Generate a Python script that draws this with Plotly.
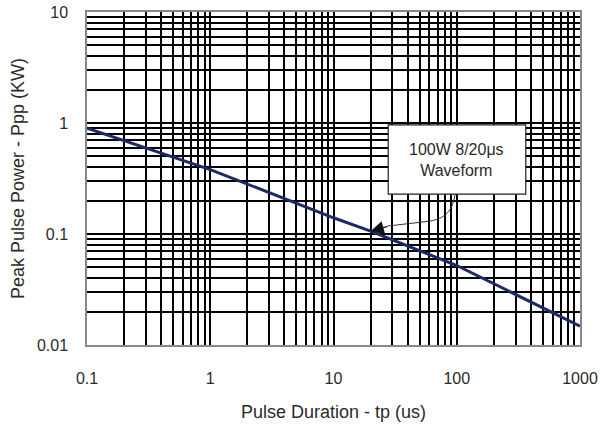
import math
import plotly.graph_objects as go

# Data
tp_us = [0.1, 1, 10, 20, 100, 1000]
ppp_kw = [0.9, 0.38, 0.14, 0.106, 0.052, 0.0148]

x_major = [0.1, 1, 10, 100, 1000]
x_major_text = ["0.1", "1", "10", "100", "1000"]
y_major = [0.01, 0.1, 1, 10]
y_major_text = ["0.01", "0.1", "1", "10"]

x_title = "Pulse Duration - tp (us)"
y_title = "Peak Pulse Power - Ppp (KW)"
note_text = "100W 8/20μs<br>Waveform"
arrow_x, arrow_y = 20, 0.106


def minors(lo_exp, hi_exp):
    vals = []
    for e in range(lo_exp, hi_exp):
        for m in range(2, 10):
            vals.append(m * 10 ** e)
    return vals


x_minor = minors(-1, 3)
y_minor = minors(-2, 1)

FONT = "Liberation Sans, Arial, sans-serif"
TXT = "#2a2a2a"

fig = go.Figure()
fig.add_trace(go.Scatter(
    x=tp_us, y=ppp_kw, mode="lines",
    line=dict(color="#1b2a66", width=3),
    hoverinfo="skip", showlegend=False,
))

axis_common = dict(
    type="log",
    tickmode="array",
    automargin=False,
    showgrid=True, gridcolor="black", gridwidth=2,
    showline=True, linecolor="#888888", linewidth=1.5, mirror=True,
    ticks="", zeroline=False,
    tickfont=dict(family=FONT, size=16, color=TXT),
)

fig.update_xaxes(
    **axis_common,
    range=[-1, 3],
    tickvals=x_major, ticktext=x_major_text,
    minor=dict(tickmode="array", tickvals=x_minor, showgrid=True,
               gridcolor="black", gridwidth=2, ticks=""),
    ticklabelstandoff=18,
    title=dict(text=x_title, font=dict(family=FONT, size=18, color=TXT), standoff=19),
)
fig.update_yaxes(
    **axis_common,
    range=[-2, 1],
    tickvals=y_major, ticktext=y_major_text,
    minor=dict(tickmode="array", tickvals=y_minor, showgrid=True,
               gridcolor="black", gridwidth=2, ticks=""),
    ticklabelstandoff=14,
    title=dict(text=y_title, font=dict(family=FONT, size=18, color=TXT), standoff=8),
)

# annotation box
fig.add_shape(type="rect", xref="paper", yref="paper",
              x0=0.611, x1=0.890, y0=0.453, y1=0.661,
              fillcolor="white", line=dict(color="#222222", width=1.2), layer="above")
fig.add_annotation(xref="paper", yref="paper", x=0.7505, y=0.557,
                   xanchor="center", yanchor="middle",
                   text=note_text, showarrow=False,
                   font=dict(family=FONT, size=16, color=TXT))
# curved connector
fig.add_shape(type="path", xref="paper", yref="paper",
              path="M 0.7465,0.4505 C 0.740,0.399 0.726,0.381 0.696,0.372 L 0.6085,0.357",
              line=dict(color="#333333", width=1), layer="above")
fig.add_annotation(x=math.log10(arrow_x), y=math.log10(arrow_y),
                   xref="x", yref="y", text="", showarrow=True,
                   ax=18, ay=-5, axref="pixel", ayref="pixel",
                   arrowhead=2, arrowsize=2.2, arrowwidth=1.2,
                   arrowcolor="#111111", standoff=0)

fig.update_layout(
    width=600, height=426,
    margin=dict(l=87, r=20, t=12, b=81),
    paper_bgcolor="white", plot_bgcolor="white",
    showlegend=False,
)

# remove the page's default body margin so the figure fills the window
fig.write_html("out.html",
               config={"displayModeBar": False},
               post_script="document.body.style.margin='0';document.body.style.overflow='hidden';")
